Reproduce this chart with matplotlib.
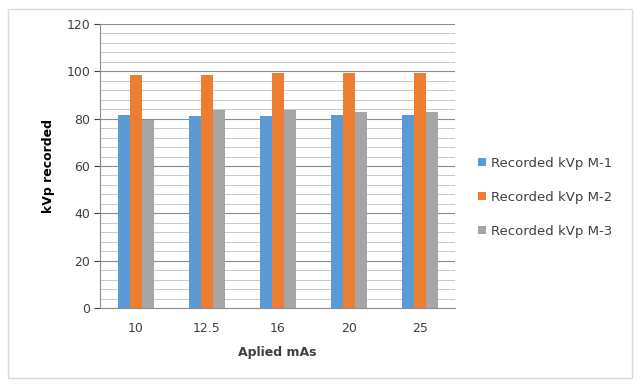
import matplotlib.pyplot as plt
import matplotlib.patches as patches
import numpy as np

mas = ['10', '12.5', '16', '20', '25']
m1 = [81.5, 81, 81, 81.5, 81.5]
m2 = [98.5, 98.5, 99.5, 99.5, 99.5]
m3 = [79.5, 83.5, 83.5, 83, 83]
labels = ['Recorded kVp M-1', 'Recorded kVp M-2', 'Recorded kVp M-3']
colors = ['#5B9BD5', '#ED7D31', '#A5A5A5']

fig = plt.figure(figsize=(6.42, 3.87), dpi=100)
ax = fig.add_axes([0.156, 0.204, 0.553, 0.734])

# outer chart border
fig.patches.append(patches.Rectangle((0.012, 0.023), 0.973, 0.955, transform=fig.transFigure,
                                     fill=False, edgecolor='#d9d9d9', linewidth=1))

x = np.arange(len(mas))
w = 0.17
for i, (vals, lab, c) in enumerate(zip([m1, m2, m3], labels, colors)):
    ax.bar(x + (i - 1) * w, vals, w, color=c, label=lab, zorder=3)

ax.set_ylim(0, 120)
ax.set_xlim(-0.5, len(mas) - 0.5)
ax.set_yticks(range(0, 121, 20))
ax.set_yticks(range(0, 121, 4), minor=True)
ax.grid(axis='y', which='major', color='#8c8c8c', linewidth=0.8, zorder=0)
ax.grid(axis='y', which='minor', color='#c8c8c8', linewidth=0.7, zorder=0)
ax.set_xticks(x)
ax.set_xticklabels(mas)
ax.tick_params(axis='x', length=0, labelsize=9, colors='#404040', pad=10)
ax.tick_params(axis='y', which='major', length=4, labelsize=9, colors='#404040', pad=3)
ax.tick_params(axis='y', which='minor', length=0)
for s in ['top', 'right']:
    ax.spines[s].set_visible(False)
ax.spines['left'].set_color('#8c8c8c')
ax.spines['bottom'].set_color('#8c8c8c')

ax.set_xlabel('Aplied mAs', fontsize=9, fontweight='bold', color='#404040', labelpad=8)
ax.set_ylabel('kVp recorded', fontsize=9, fontweight='bold', color='#000000', labelpad=8)

ax.legend(loc='center left', bbox_to_anchor=(1.03, 0.39), frameon=False, fontsize=9.5,
          handlelength=0.6, handleheight=0.6, handletextpad=0.4, labelspacing=1.6,
          labelcolor='#404040')

fig.savefig('out.png', dpi=100)
